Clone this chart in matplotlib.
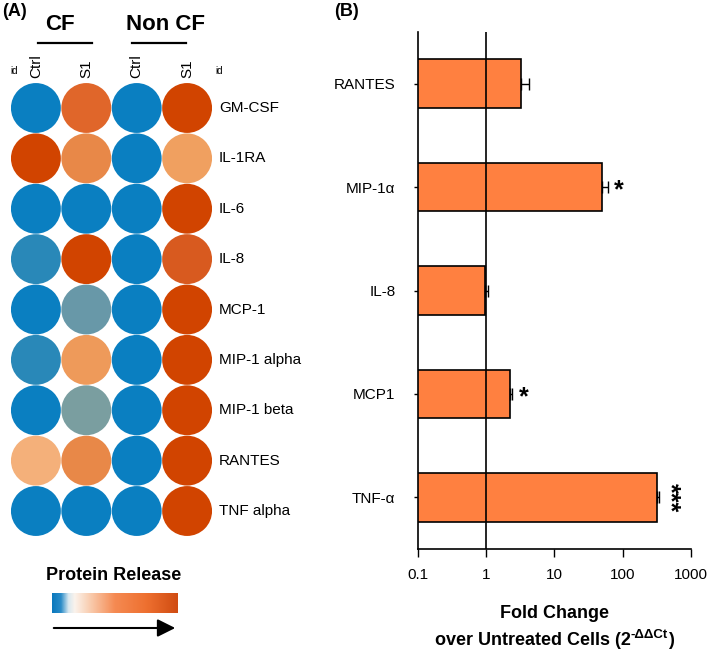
import numpy as np
import matplotlib
matplotlib.use("Agg")
import matplotlib.pyplot as plt
from matplotlib.patches import Circle
from matplotlib.colors import LinearSegmentedColormap, Normalize

plt.rcParams['font.family'] = ['Liberation Sans', 'DejaVu Sans']

# ---------------- data: panel A ----------------
proteins = ["GM-CSF", "IL-1RA", "IL-6", "IL-8", "MCP-1", "MIP-1 alpha",
            "MIP-1 beta", "RANTES", "TNF alpha"]
conditions = ["Ctrl", "S1", "Ctrl", "S1"]
groups = ["CF", "Non CF"]
# relative protein release (0 = low, 1 = high), columns: CF Ctrl, CF S1, NonCF Ctrl, NonCF S1
release = [
    [0.00, 0.80, 0.00, 1.00],
    [1.00, 0.62, 0.00, 0.50],
    [0.00, 0.00, 0.00, 1.00],
    [0.08, 1.00, 0.00, 0.88],
    [0.00, 0.20, 0.00, 1.00],
    [0.08, 0.55, 0.00, 1.00],
    [0.00, 0.24, 0.00, 1.00],
    [0.42, 0.62, 0.00, 1.00],
    [0.00, 0.00, 0.00, 1.00],
]

# ---------------- data: panel B ----------------
genes = ["RANTES", "MIP-1\u03b1", "IL-8", "MCP1", "TNF-\u03b1"]
fold_change = [3.2, 49.0, 0.97, 2.23, 314.0]
fold_err = [1.1, 12.0, 0.1, 0.2, 30.0]
significance = ["", "*", "", "*", "***"]

W, H = 709, 656
fig = plt.figure(figsize=(W / 100, H / 100), dpi=100)


def fx(x):
    return x / W


def fy(y):
    return 1 - y / H


# circle colormap
cmap = LinearSegmentedColormap.from_list("release", [
    (0.00, "#0a7fc1"), (0.08, "#2a88b8"), (0.20, "#6898a8"), (0.24, "#7a9ea0"),
    (0.42, "#f4b07a"), (0.50, "#f0a060"), (0.55, "#ee9a5a"), (0.62, "#e88848"),
    (0.80, "#e0662a"), (0.88, "#d85a20"), (1.00, "#d14400")])
norm = Normalize(0, 1)

# ---------------- panel A ----------------
left, right, top, bottom = 10.7, 212.3, 82.8, 536.2
axA = fig.add_axes([fx(left), fy(bottom), fx(right - left), (bottom - top) / H])
axA.set_xlim(-0.5, 3.5)
axA.set_ylim(8.5, -0.5)
axA.axis("off")
for i, row in enumerate(release):
    for j, v in enumerate(row):
        axA.add_patch(Circle((j, i), 0.495, facecolor=cmap(norm(v)), edgecolor="none"))
    axA.text(3.63, i, proteins[i], ha="left", va="center", fontsize=11)
for j, c in enumerate(conditions):
    axA.text(j, -0.6, c, rotation=90, ha="center", va="bottom", fontsize=11)

fig.text(fx(14), fy(76), "id", fontsize=7, ha="center", va="bottom", rotation=0)
fig.text(fx(219), fy(76), "id", fontsize=7, ha="center", va="bottom", rotation=0)

fig.text(fx(2), fy(3), "(A)", fontsize=13, fontweight="bold", ha="left", va="top")
fig.text(fx(334), fy(3), "(B)", fontsize=13, fontweight="bold", ha="left", va="top")

for g, (cx, x0, x1) in zip(groups, [(60, 38.3, 91.7), (166, 132.3, 185.7)]):
    fig.text(fx(cx), fy(25), g, fontsize=16, fontweight="bold", ha="center", va="center")
    fig.add_artist(plt.Line2D([fx(x0), fx(x1)], [fy(42.7), fy(42.7)], color="black", lw=1.6))

# legend gradient
fig.text(fx(114), fy(575), "Protein Release", fontsize=13, fontweight="bold",
         ha="center", va="center")
cbar_cmap = LinearSegmentedColormap.from_list("cb", [
    (0.00, "#0a78bd"), (0.07, "#2a8cc8"), (0.13, "#d8e8f0"), (0.18, "#fbf3ec"),
    (0.30, "#f9cdb0"), (0.50, "#f58a52"), (0.75, "#ee7030"), (1.00, "#d04c12")])
axC = fig.add_axes([fx(52), fy(613), fx(126), 20 / H])
axC.imshow(np.linspace(0, 1, 256)[None, :], aspect="auto", cmap=cbar_cmap)
axC.axis("off")
fig.add_artist(matplotlib.patches.FancyArrowPatch(
    (fx(51), fy(628)), (fx(178), fy(628)), transform=fig.transFigure,
    arrowstyle="-|>,head_length=0.6,head_width=0.3", mutation_scale=18,
    color="black", lw=1.5))

# ---------------- panel B ----------------
bl, br, bt, bb = 417.7, 691.0, 32.0, 549.0
axB = fig.add_axes([fx(bl), fy(bb), fx(br - bl), (bb - bt) / H])
ypos = np.arange(len(genes))
axB.barh(ypos, fold_change, height=0.47, color="#ff8040", edgecolor="black",
         linewidth=1.2, zorder=2)
axB.errorbar(fold_change, ypos, xerr=[np.zeros(len(genes)), fold_err], fmt="none",
             ecolor="black", elinewidth=1.0, capsize=4, capthick=1.0, zorder=3)
axB.axvline(1, color="black", lw=1.2, zorder=4)
axB.set_xscale("log")
axB.set_xlim(0.1, 1000)
axB.set_ylim(len(genes) - 0.5, -0.5)
axB.set_yticks(ypos)
axB.set_yticklabels(genes, fontsize=11)
axB.set_xticks([0.1, 1, 10, 100, 1000])
axB.set_xticklabels(["0.1", "1", "10", "100", "1000"], fontsize=11)
axB.xaxis.set_minor_locator(matplotlib.ticker.NullLocator())
axB.tick_params(axis="y", length=3, width=1.0, pad=13)
axB.tick_params(axis="x", length=6, width=1.0, pad=8)
for s in ["top", "right"]:
    axB.spines[s].set_visible(False)
for s in ["left", "bottom"]:
    axB.spines[s].set_linewidth(1.2)

for i, (v, e, s) in enumerate(zip(fold_change, fold_err, significance)):
    if not s:
        continue
    if len(s) == 1:
        axB.annotate(s, (v + e, i), xytext=(11, -3), textcoords="offset pixels",
                     ha="center", va="center", fontsize=18, fontweight="bold")
    else:
        axB.annotate(s, (v + e, i), xytext=(10, 0), textcoords="offset pixels",
                     ha="center", va="center", fontsize=18, fontweight="bold",
                     rotation=270)

mid = (bl + br) / 2
fig.text(fx(mid), fy(613), "Fold Change", fontsize=13, fontweight="bold",
         ha="center", va="center")

# second x-label line with a superscript built from separate text pieces
renderer = fig.canvas.get_renderer()
parts = [("over Untreated Cells (2", 13, 0), ("-\u0394\u0394Ct", 9.5, -7), (")", 13, 0)]
widths = []
tmp = []
for txt, fs, dy in parts:
    t = fig.text(0, 0, txt, fontsize=fs, fontweight="bold")
    widths.append(t.get_window_extent(renderer).width)
    tmp.append(t)
for t in tmp:
    t.remove()
x = mid - sum(widths) / 2
for (txt, fs, dy), w in zip(parts, widths):
    fig.text(fx(x), fy(645 + dy), txt, fontsize=fs, fontweight="bold",
             ha="left", va="baseline")
    x += w

fig.savefig("out.png", dpi=100)
